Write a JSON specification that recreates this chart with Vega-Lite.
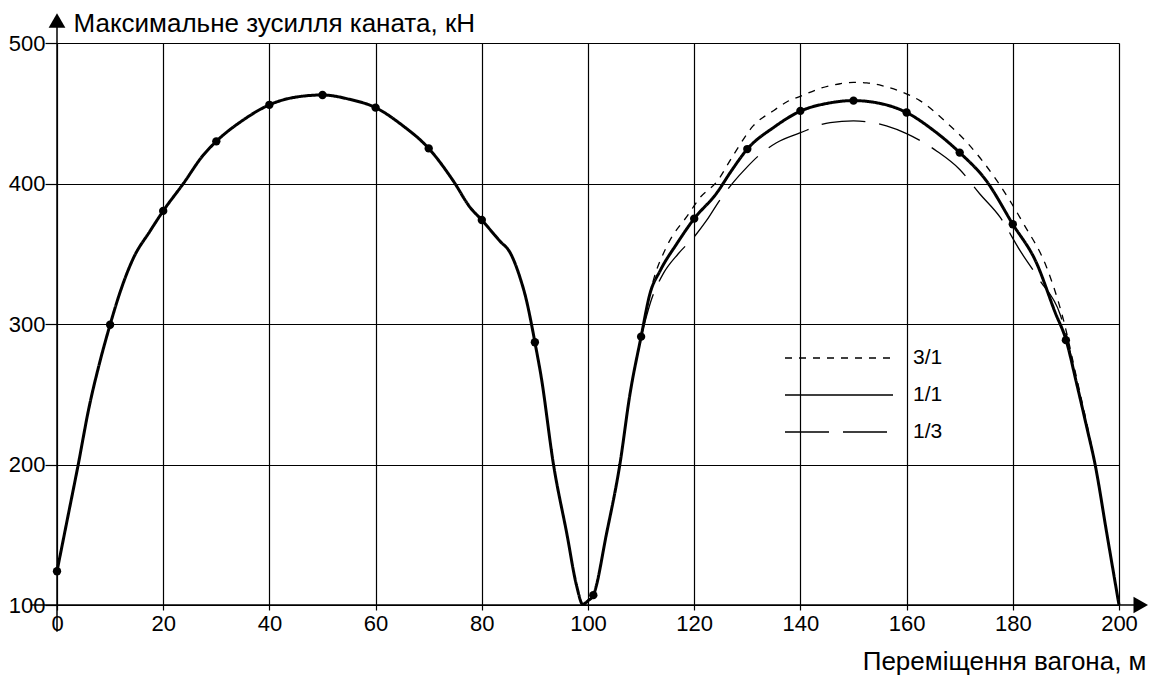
{
  "$schema": "https://vega.github.io/schema/vega-lite/v6.json",
  "width": 1062,
  "height": 562,
  "autosize": "none",
  "padding": {"left": 57, "top": 43, "right": 34, "bottom": 73},
  "background": "white",
  "config": {"view": {"stroke": null}, "font": "Liberation Sans"},
  "datasets": {
    "axes": [
      {"x": -5, "x2": 203, "y": 100, "y2": 100},
      {"x": 0, "x2": 0, "y": 81, "y2": 514}
    ],
    "arrowUp": [{"x": 0, "y": 516}],
    "arrowRight": [{"x": 204.1, "y": 100}],
    "lines": [
      {"series": "3/1", "x": 110, "y": 291}, {"series": "3/1", "x": 112.3, "y": 331}, {"series": "3/1", "x": 114.8, "y": 355},
      {"series": "3/1", "x": 118.9, "y": 378}, {"series": "3/1", "x": 121.1, "y": 390}, {"series": "3/1", "x": 124.2, "y": 401},
      {"series": "3/1", "x": 127.5, "y": 421}, {"series": "3/1", "x": 131.1, "y": 441}, {"series": "3/1", "x": 135, "y": 452},
      {"series": "3/1", "x": 137.4, "y": 458}, {"series": "3/1", "x": 140.2, "y": 462.4}, {"series": "3/1", "x": 144, "y": 468},
      {"series": "3/1", "x": 147.5, "y": 471}, {"series": "3/1", "x": 150, "y": 472}, {"series": "3/1", "x": 152.5, "y": 471.6},
      {"series": "3/1", "x": 155.5, "y": 469.5}, {"series": "3/1", "x": 158.8, "y": 465.6}, {"series": "3/1", "x": 162.5, "y": 459},
      {"series": "3/1", "x": 167.5, "y": 443.5}, {"series": "3/1", "x": 171.3, "y": 429.5}, {"series": "3/1", "x": 177, "y": 402},
      {"series": "3/1", "x": 182, "y": 371.5}, {"series": "3/1", "x": 186.4, "y": 340}, {"series": "3/1", "x": 189.6, "y": 302},
      {"series": "3/1", "x": 192, "y": 262}, {"series": "3/1", "x": 195.5, "y": 200}, {"series": "3/1", "x": 197.7, "y": 151},
      {"series": "3/1", "x": 200, "y": 100},
      {"series": "1/3", "x": 110, "y": 291}, {"series": "1/3", "x": 112, "y": 318}, {"series": "1/3", "x": 114.2, "y": 336},
      {"series": "1/3", "x": 117, "y": 350}, {"series": "1/3", "x": 120.2, "y": 363}, {"series": "1/3", "x": 122.3, "y": 373.5},
      {"series": "1/3", "x": 124.8, "y": 388}, {"series": "1/3", "x": 127.4, "y": 401}, {"series": "1/3", "x": 129.9, "y": 411.5},
      {"series": "1/3", "x": 132.5, "y": 421}, {"series": "1/3", "x": 135.5, "y": 429}, {"series": "1/3", "x": 139.9, "y": 436},
      {"series": "1/3", "x": 145.6, "y": 443.4}, {"series": "1/3", "x": 150, "y": 444.6}, {"series": "1/3", "x": 156.2, "y": 441},
      {"series": "1/3", "x": 160, "y": 435.5}, {"series": "1/3", "x": 165.7, "y": 423}, {"series": "1/3", "x": 170, "y": 410},
      {"series": "1/3", "x": 173.8, "y": 392.5}, {"series": "1/3", "x": 177.6, "y": 376}, {"series": "1/3", "x": 181.4, "y": 352},
      {"series": "1/3", "x": 185.1, "y": 331}, {"series": "1/3", "x": 188.9, "y": 307}, {"series": "1/3", "x": 190.1, "y": 292},
      {"series": "1/3", "x": 192, "y": 258}, {"series": "1/3", "x": 195.5, "y": 200}, {"series": "1/3", "x": 197.7, "y": 151},
      {"series": "1/3", "x": 200, "y": 100},
      {"series": "1/1", "x": 0, "y": 124}, {"series": "1/1", "x": 2, "y": 162}, {"series": "1/1", "x": 4, "y": 200},
      {"series": "1/1", "x": 6, "y": 240}, {"series": "1/1", "x": 8, "y": 272}, {"series": "1/1", "x": 10, "y": 299.5},
      {"series": "1/1", "x": 12, "y": 324}, {"series": "1/1", "x": 14.4, "y": 347}, {"series": "1/1", "x": 17.5, "y": 366},
      {"series": "1/1", "x": 20, "y": 380.5}, {"series": "1/1", "x": 23.8, "y": 400}, {"series": "1/1", "x": 27.5, "y": 420},
      {"series": "1/1", "x": 30, "y": 430}, {"series": "1/1", "x": 35, "y": 445}, {"series": "1/1", "x": 40, "y": 456},
      {"series": "1/1", "x": 45, "y": 461.5}, {"series": "1/1", "x": 50, "y": 463}, {"series": "1/1", "x": 55, "y": 460},
      {"series": "1/1", "x": 60, "y": 454}, {"series": "1/1", "x": 65, "y": 441.5}, {"series": "1/1", "x": 70, "y": 425},
      {"series": "1/1", "x": 74.6, "y": 402}, {"series": "1/1", "x": 77.8, "y": 383}, {"series": "1/1", "x": 80, "y": 374},
      {"series": "1/1", "x": 83.4, "y": 359}, {"series": "1/1", "x": 85.3, "y": 351}, {"series": "1/1", "x": 87.2, "y": 333},
      {"series": "1/1", "x": 88.4, "y": 317}, {"series": "1/1", "x": 89.4, "y": 299}, {"series": "1/1", "x": 90, "y": 287},
      {"series": "1/1", "x": 91.2, "y": 262}, {"series": "1/1", "x": 93.5, "y": 200}, {"series": "1/1", "x": 96, "y": 151},
      {"series": "1/1", "x": 97.9, "y": 113}, {"series": "1/1", "x": 99, "y": 100.5}, {"series": "1/1", "x": 100, "y": 103},
      {"series": "1/1", "x": 101, "y": 107}, {"series": "1/1", "x": 103.5, "y": 151}, {"series": "1/1", "x": 106, "y": 200},
      {"series": "1/1", "x": 107.9, "y": 250}, {"series": "1/1", "x": 110, "y": 291}, {"series": "1/1", "x": 111.7, "y": 322},
      {"series": "1/1", "x": 113.6, "y": 338}, {"series": "1/1", "x": 116.7, "y": 357}, {"series": "1/1", "x": 120, "y": 375},
      {"series": "1/1", "x": 124.2, "y": 393}, {"series": "1/1", "x": 127, "y": 409}, {"series": "1/1", "x": 130, "y": 424.5},
      {"series": "1/1", "x": 135, "y": 440}, {"series": "1/1", "x": 140, "y": 451.5}, {"series": "1/1", "x": 145, "y": 457},
      {"series": "1/1", "x": 150, "y": 459}, {"series": "1/1", "x": 155, "y": 457}, {"series": "1/1", "x": 160, "y": 450.5},
      {"series": "1/1", "x": 165, "y": 438}, {"series": "1/1", "x": 170, "y": 422}, {"series": "1/1", "x": 175, "y": 402},
      {"series": "1/1", "x": 180, "y": 371}, {"series": "1/1", "x": 184.4, "y": 344}, {"series": "1/1", "x": 188, "y": 308},
      {"series": "1/1", "x": 190, "y": 289}, {"series": "1/1", "x": 192, "y": 258}, {"series": "1/1", "x": 193.9, "y": 227},
      {"series": "1/1", "x": 195.5, "y": 200}, {"series": "1/1", "x": 197.7, "y": 151}, {"series": "1/1", "x": 200, "y": 100}
    ],
    "dots": [
      {"x": 0, "y": 124}, {"x": 10, "y": 299.5}, {"x": 20, "y": 380.5}, {"x": 30, "y": 430}, {"x": 40, "y": 456},
      {"x": 50, "y": 463}, {"x": 60, "y": 454}, {"x": 70, "y": 425}, {"x": 80, "y": 374}, {"x": 90, "y": 287},
      {"x": 101, "y": 107}, {"x": 110, "y": 291}, {"x": 120, "y": 375}, {"x": 130, "y": 424.5}, {"x": 140, "y": 451.7},
      {"x": 150, "y": 459}, {"x": 160, "y": 450.5}, {"x": 170, "y": 422}, {"x": 180, "y": 371}, {"x": 190, "y": 288.5}
    ]
  },
  "encoding": {
    "x": {
      "field": "x", "type": "quantitative",
      "scale": {"domain": [0, 200], "nice": false, "zero": false},
      "axis": {
        "values": [0, 20, 40, 60, 80, 100, 120, 140, 160, 180, 200],
        "grid": true, "gridColor": "#000", "gridWidth": 1.2, "gridOpacity": 1,
        "domain": false, "ticks": true, "tickSize": 5, "tickColor": "#000", "tickWidth": 1.2,
        "labelFont": "Liberation Sans", "labelFontSize": 22, "labelColor": "#000", "labelPadding": 3,
        "labelFlush": false, "labelOverlap": false,
        "title": "Переміщення вагона, м", "titleFont": "Liberation Sans", "titleFontSize": 26,
        "titleFontWeight": "normal", "titleColor": "#000", "titleAngle": 0, "titleAlign": "right",
        "titleBaseline": "alphabetic", "titleX": 1089, "titleY": 64
      }
    },
    "y": {
      "field": "y", "type": "quantitative",
      "scale": {"domain": [100, 500], "nice": false, "zero": false},
      "axis": {
        "values": [100, 200, 300, 400, 500],
        "grid": true, "gridColor": "#000", "gridWidth": 1.2, "gridOpacity": 1,
        "domain": false, "ticks": true, "tickSize": 12, "tickColor": "#000", "tickWidth": 1.2,
        "labelFont": "Liberation Sans", "labelFontSize": 22, "labelColor": "#000", "labelPadding": 0,
        "labelFlush": false, "labelOverlap": false,
        "title": "Максимальне зусилля каната, кН", "titleFont": "Liberation Sans", "titleFontSize": 26,
        "titleFontWeight": "normal", "titleColor": "#000", "titleAngle": 0, "titleAlign": "left",
        "titleBaseline": "alphabetic", "titleX": 16, "titleY": -12
      }
    }
  },
  "layer": [
    {
      "data": {"name": "axes"},
      "mark": {"type": "rule", "color": "#000", "strokeWidth": 1.5},
      "encoding": {
        "x2": {"field": "x2"},
        "y2": {"field": "y2"}
      }
    },
    {
      "data": {"name": "arrowUp"},
      "mark": {"type": "point", "shape": "triangle-up", "filled": true, "color": "#000", "size": 280, "opacity": 1}
    },
    {
      "data": {"name": "arrowRight"},
      "mark": {"type": "point", "shape": "triangle-right", "filled": true, "color": "#000", "size": 280, "opacity": 1}
    },
    {
      "data": {"name": "lines"},
      "mark": {"type": "line", "color": "#000", "interpolate": "monotone"},
      "encoding": {
        "strokeWidth": {
          "condition": {"test": "datum.series === '1/1'", "value": 3},
          "value": 1.3
        },
        "strokeDash": {
          "field": "series", "type": "nominal",
          "scale": {"domain": ["3/1", "1/1", "1/3"], "range": [[7, 7], [1, 0], [44, 14]]},
          "legend": {
            "orient": "none", "legendX": 717.5, "legendY": 304.5, "title": null, "padding": 0,
            "symbolSize": 100, "symbolOffset": 54, "labelOffset": 63.5, "rowPadding": 15,
            "labelFont": "Liberation Sans", "labelFontSize": 21, "labelColor": "#000",
            "symbolType": "M-10.8,0H10.8",
            "encode": {
              "symbols": {
                "strokeWidth": {
                  "condition": {"test": "datum.value === '1/1'", "value": 3},
                  "value": 1.3
                }
              }
            }
          }
        }
      }
    },
    {
      "data": {"name": "dots"},
      "mark": {"type": "point", "filled": true, "color": "#000", "size": 70, "opacity": 1}
    }
  ]
}
